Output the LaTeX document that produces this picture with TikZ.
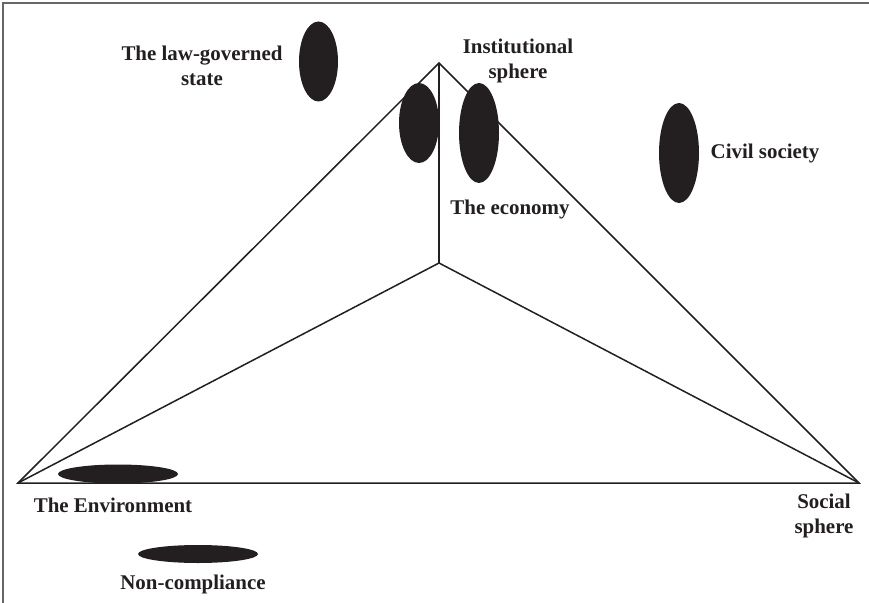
\documentclass[tikz,border=0pt]{standalone}
\usepackage{fontspec}
\setmainfont{Liberation Serif}
\definecolor{ink}{HTML}{231F20}
\tikzset{
  lbl/.style={font=\bfseries\fontsize{21}{25.5}\selectfont, text=ink, align=center, inner sep=0pt},
  edge/.style={draw=ink, line width=1.5bp},
  blob/.style={fill=ink}
}
\begin{document}
\begin{tikzpicture}[x=1bp,y=-1bp]
  \useasboundingbox (0,0) rectangle (869,603);
  \draw[black!60, line width=1.3bp] (3,603) -- (3,3) -- (869,3);

  % corners of the pyramid
  \coordinate (apex) at (439,63);
  \coordinate (mid) at (439,263);
  \coordinate (envc) at (18,483);
  \coordinate (socc) at (859,483);

  \draw[edge] (envc) -- (apex) -- (socc) -- cycle;
  \draw[edge] (apex) -- (mid);
  \draw[edge] (envc) -- (mid) -- (socc);

  % blobs
  \fill[blob] (318.5,61.5) ellipse (19.5bp and 40bp);
  \fill[blob] (419,123) ellipse (20bp and 40bp);
  \fill[blob] (479,133) ellipse (20bp and 50bp);
  \fill[blob] (679,153) ellipse (20bp and 50bp);
  \fill[blob] (118,474) ellipse (60bp and 9.5bp);
  \fill[blob] (198,554) ellipse (60bp and 9bp);

  % labels
  \node[lbl] (law) at (202,66) {The law-governed\\state};
  \node[lbl] (inst) at (518,61) {Institutional\\sphere};
  \node[lbl] (econ) at (510,209) {The economy};
  \node[lbl] (civil) at (765,154) {Civil society};
  \node[lbl] (env) at (113,505) {The Environment};
  \node[lbl] (soc) at (824,516) {Social\\sphere};
  \node[lbl] (noncomp) at (193,584) {Non-compliance};
\end{tikzpicture}
\end{document}
